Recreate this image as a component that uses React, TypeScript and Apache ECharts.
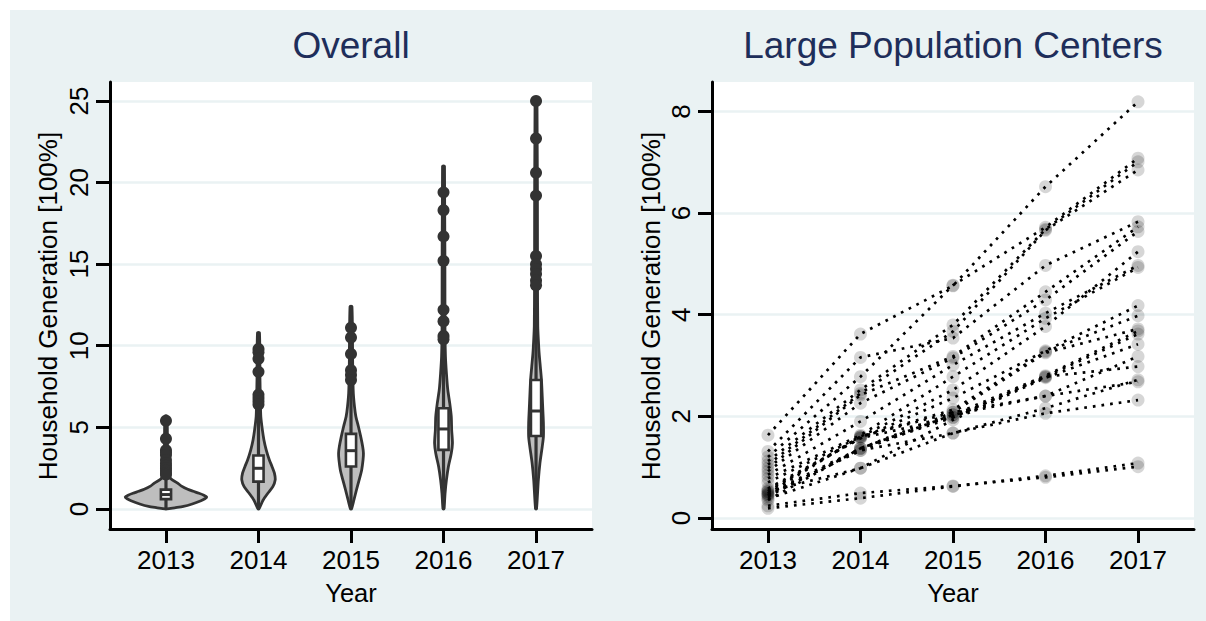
import React, { useEffect, useRef } from 'react';
import * as echarts from 'echarts';

// ---------------- DATA ----------------
const YEARS = [2013, 2014, 2015, 2016, 2017];
const OVERALL_Y_TICKS = [0, 5, 10, 15, 20, 25];
const LARGE_Y_TICKS = [0, 2, 4, 6, 8];

// Violin kernel-density profiles per year: [value, density]
const VIOLIN_2013 = [[0, 0.025], [0.07, 0.225], [0.15, 0.45], [0.3, 0.675], [0.5, 0.9], [0.62, 1.0], [0.72, 1.05], [0.84, 0.975], [0.96, 0.85], [1.08, 0.7], [1.2, 0.56], [1.4, 0.4], [1.6, 0.29], [1.85, 0.125], [2.1, 0.075], [2.6, 0.05], [4, 0.038], [5.7, 0.025]];
const VIOLIN_2014 = [[0, 0.0125], [0.55, 0.12], [0.96, 0.24], [1.37, 0.37], [1.78, 0.43], [2.19, 0.41], [2.59, 0.35], [3.0, 0.28], [3.61, 0.2], [4.23, 0.14], [4.84, 0.1], [5.66, 0.06], [6.5, 0.05], [8, 0.038], [10.8, 0.025]];
const VIOLIN_2015 = [[0, 0.0125], [0.55, 0.075], [1.16, 0.14], [1.78, 0.21], [2.39, 0.275], [3.0, 0.31], [3.41, 0.32], [3.82, 0.3], [4.43, 0.25], [5.05, 0.19], [5.66, 0.125], [6.27, 0.09], [7.09, 0.06], [8.5, 0.045], [12.4, 0.025]];
const VIOLIN_2016 = [[0, 0.0125], [0.96, 0.04], [1.78, 0.075], [2.59, 0.125], [3.41, 0.2], [4.02, 0.23], [4.84, 0.21], [5.66, 0.2], [6.48, 0.16], [7.29, 0.11], [8.31, 0.075], [9.33, 0.05], [11, 0.038], [21, 0.025]];
const VIOLIN_2017 = [[0, 0.0125], [1.78, 0.06], [2.8, 0.1], [3.82, 0.16], [4.43, 0.19], [5.25, 0.19], [6.07, 0.175], [6.88, 0.16], [7.9, 0.14], [8.72, 0.11], [9.53, 0.08], [10.35, 0.06], [11.17, 0.045], [14, 0.038], [25, 0.025]];
const VIOLINS = [VIOLIN_2013, VIOLIN_2014, VIOLIN_2015, VIOLIN_2016, VIOLIN_2017];

const BOX_Q1 = [0.6, 1.67, 2.6, 3.62, 4.47];
const BOX_MEDIAN = [0.88, 2.49, 3.57, 4.9, 6.0];
const BOX_Q3 = [1.18, 3.27, 4.6, 6.17, 7.9];
const SPIKE_MIN = [0, 0, 0, 0, 0];
const SPIKE_MAX = [5.7, 10.8, 12.4, 21.0, 25.0];

const OUTLIERS_2013 = [5.4, 4.3, 3.6, 3.45, 3.3, 3.0, 2.8, 2.65, 2.5, 2.35, 2.2, 2.1];
const OUTLIERS_2014 = [9.8, 9.6, 9.2, 8.4, 7.0, 6.8, 6.6, 6.4];
const OUTLIERS_2015 = [11.1, 10.5, 9.5, 8.5, 8.2, 7.9];
const OUTLIERS_2016 = [19.4, 18.3, 16.7, 15.2, 12.2, 11.5, 10.6, 10.4];
const OUTLIERS_2017 = [25.0, 22.7, 20.6, 19.2, 15.5, 15.0, 14.7, 14.4, 14.0, 13.7];
const OUTLIERS = [OUTLIERS_2013, OUTLIERS_2014, OUTLIERS_2015, OUTLIERS_2016, OUTLIERS_2017];

// Large population centers: values for 2013..2017
const CENTER_01 = [1.63, 3.62, 4.57, 6.52, 8.19];
const CENTER_02 = [1.2, 2.78, 4.58, 5.72, 7.08];
const CENTER_03 = [1.12, 2.52, 3.8, 5.68, 7.01];
const CENTER_04 = [1.05, 2.45, 3.67, 5.66, 6.85];
const CENTER_05 = [1.31, 3.16, 3.54, 4.97, 5.83];
const CENTER_06 = [0.98, 2.42, 3.18, 4.45, 5.73];
const CENTER_07 = [0.92, 2.26, 3.15, 4.29, 5.64];
const CENTER_08 = [0.85, 1.9, 3.01, 4.03, 4.97];
const CENTER_09 = [0.78, 1.63, 2.78, 3.93, 4.93];
const CENTER_10 = [0.7, 1.6, 2.52, 3.77, 5.24];
const CENTER_11 = [0.58, 1.57, 2.36, 3.29, 4.18];
const CENTER_12 = [0.52, 1.6, 2.13, 3.27, 3.98];
const CENTER_13 = [0.48, 1.37, 2.08, 3.25, 3.72];
const CENTER_14 = [0.45, 1.33, 2.03, 2.8, 3.68];
const CENTER_15 = [0.42, 1.37, 1.98, 2.78, 3.62];
const CENTER_16 = [0.38, 0.98, 1.93, 2.76, 3.42];
const CENTER_17 = [0.35, 1.37, 2.03, 2.4, 3.18];
const CENTER_18 = [0.55, 1.57, 1.98, 2.78, 2.98];
const CENTER_19 = [0.52, 0.98, 1.67, 2.16, 2.72];
const CENTER_20 = [0.45, 1.33, 1.67, 2.06, 2.32];
const CENTER_21 = [0.48, 1.6, 2.08, 2.4, 2.68];
const CENTER_22 = [0.19, 0.39, 0.62, 0.83, 1.08];
const CENTER_23 = [0.24, 0.49, 0.63, 0.8, 1.01];
const CENTERS = [CENTER_01, CENTER_02, CENTER_03, CENTER_04, CENTER_05, CENTER_06, CENTER_07, CENTER_08, CENTER_09, CENTER_10, CENTER_11, CENTER_12, CENTER_13, CENTER_14, CENTER_15, CENTER_16, CENTER_17, CENTER_18, CENTER_19, CENTER_20, CENTER_21, CENTER_22, CENTER_23];

// ---------------- STYLE ----------------
const BG = '#EAF2F3';
const DARK = '#333333';
const FONT = '"Liberation Sans", Arial, Helvetica, sans-serif';
const VIOLIN_SCALE = 0.42; // x-axis years per density unit
const BOX_HALF = 0.055; // years

const axisText = { color: '#000', fontFamily: FONT, fontSize: 26 };

function makeXAxis(gridIndex: number) {
  return {
    type: 'value',
    gridIndex,
    min: 2012.395,
    max: 2017.605,
    axisLine: { show: true, onZero: false, lineStyle: { color: '#000', width: 3 } },
    axisTick: { show: true, length: 14, customValues: YEARS, lineStyle: { color: '#000', width: 3 } },
    axisLabel: { customValues: YEARS, formatter: (v: number) => String(v), margin: 31, verticalAlign: 'middle', ...axisText },
    splitLine: { show: false },
  };
}

function makeYAxis(gridIndex: number, min: number, max: number, ticks: number[]) {
  return {
    type: 'value',
    gridIndex,
    min,
    max,
    axisLine: { show: true, onZero: false, lineStyle: { color: '#000', width: 3 } },
    axisTick: { show: true, length: 14, customValues: ticks, lineStyle: { color: '#000', width: 3 } },
    axisLabel: {
      customValues: ticks,
      rotate: 90,
      margin: 31,
      align: 'center',
      verticalAlign: 'middle',
      formatter: (v: number) => String(v),
      ...axisText,
    },
    splitLine: { show: true, lineStyle: { color: BG, width: 2.5 } },
  };
}

function violinRender(params: any, api: any) {
  const year = api.value(0);
  const idx = api.value(1);
  const prof = VIOLINS[idx];
  const right = prof.map(([v, d]) => api.coord([year + d * VIOLIN_SCALE, v]));
  const left = prof.slice().reverse().map(([v, d]) => api.coord([year - d * VIOLIN_SCALE, v]));
  const pts = right.concat(left);
  const tl = api.coord([year - BOX_HALF, BOX_Q3[idx]]);
  const br = api.coord([year + BOX_HALF, BOX_Q1[idx]]);
  const mL = api.coord([year - BOX_HALF, BOX_MEDIAN[idx]]);
  const mR = api.coord([year + BOX_HALF, BOX_MEDIAN[idx]]);
  const sTop = api.coord([year, SPIKE_MAX[idx]]);
  const sBot = api.coord([year, SPIKE_MIN[idx]]);
  return {
    type: 'group',
    children: [
      {
        type: 'polygon',
        shape: { points: pts, smooth: 0.25 },
        style: { fill: '#BEBEBE', stroke: DARK, lineWidth: 2.8 },
      },
      {
        type: 'line',
        shape: { x1: sBot[0], y1: sBot[1], x2: sTop[0], y2: sTop[1] },
        style: { stroke: DARK, lineWidth: 3.2 },
      },
      {
        type: 'rect',
        shape: { x: tl[0], y: tl[1], width: br[0] - tl[0], height: br[1] - tl[1] },
        style: { fill: '#fff', stroke: DARK, lineWidth: 2.6 },
      },
      {
        type: 'line',
        shape: { x1: mL[0], y1: mL[1], x2: mR[0], y2: mR[1] },
        style: { stroke: DARK, lineWidth: 3 },
      },
    ],
  };
}

function buildOption() {
  const outlierData: number[][] = [];
  OUTLIERS.forEach((arr, i) => arr.forEach((v) => outlierData.push([YEARS[i], v])));

  const centerPoints: number[][] = [];
  CENTERS.forEach((c) => c.forEach((v, j) => centerPoints.push([YEARS[j], v])));

  const lineSeries = CENTERS.map((c, k) => ({
    type: 'line',
    name: 'center' + (k + 1),
    xAxisIndex: 1,
    yAxisIndex: 1,
    data: c.map((v, j) => [YEARS[j], v]),
    symbol: 'none',
    silent: true,
    z: 3,
    lineStyle: { color: '#000', width: 2.7, type: [2.7, 6] },
  }));

  return {
    animation: false,
    backgroundColor: BG,
    grid: [
      { left: 100, top: 72, width: 482, height: 447, show: true, backgroundColor: '#fff', borderWidth: 0 },
      { left: 702, top: 72, width: 482, height: 447, show: true, backgroundColor: '#fff', borderWidth: 0 },
    ],
    xAxis: [makeXAxis(0), makeXAxis(1)],
    yAxis: [makeYAxis(0, -1.23, 26.16, OVERALL_Y_TICKS), makeYAxis(1, -0.217, 8.58, LARGE_Y_TICKS)],
    graphic: [
      { type: 'text', x: 341, y: 35, style: { text: 'Overall', fill: '#1e2e5a', font: `37px ${FONT}`, textAlign: 'center', textVerticalAlign: 'middle' } },
      { type: 'text', x: 943, y: 35, style: { text: 'Large Population Centers', fill: '#1e2e5a', font: `37px ${FONT}`, textAlign: 'center', textVerticalAlign: 'middle' } },
      { type: 'text', x: 38, y: 296, rotation: Math.PI / 2, style: { text: 'Household Generation [100%]', fill: '#000', font: `26px ${FONT}`, textAlign: 'center', textVerticalAlign: 'middle' } },
      { type: 'text', x: 640.5, y: 296, rotation: Math.PI / 2, style: { text: 'Household Generation [100%]', fill: '#000', font: `26px ${FONT}`, textAlign: 'center', textVerticalAlign: 'middle' } },
      { type: 'text', x: 341, y: 582.5, style: { text: 'Year', fill: '#000', font: `25.5px ${FONT}`, textAlign: 'center', textVerticalAlign: 'middle' } },
      { type: 'text', x: 943, y: 582.5, style: { text: 'Year', fill: '#000', font: `25.5px ${FONT}`, textAlign: 'center', textVerticalAlign: 'middle' } },
    ],
    series: [
      {
        type: 'custom',
        name: 'violins',
        xAxisIndex: 0,
        yAxisIndex: 0,
        data: YEARS.map((y, i) => [y, i]),
        encode: { x: 0, y: -1 },
        renderItem: violinRender,
        silent: true,
        z: 2,
      },
      {
        type: 'scatter',
        name: 'outliers',
        xAxisIndex: 0,
        yAxisIndex: 0,
        data: outlierData,
        symbol: 'circle',
        symbolSize: 12,
        itemStyle: { color: DARK, opacity: 1 },
        silent: true,
        z: 4,
      },
      {
        type: 'scatter',
        name: 'center points',
        xAxisIndex: 1,
        yAxisIndex: 1,
        data: centerPoints,
        symbol: 'circle',
        symbolSize: 13,
        itemStyle: { color: 'rgba(0,0,0,0.2)' },
        silent: true,
        z: 2,
      },
      ...lineSeries,
    ],
  };
}

export default function App() {
  const ref = useRef<HTMLDivElement>(null);
  useEffect(() => {
    if (!ref.current) return;
    const chart = echarts.init(ref.current, null, { renderer: 'svg' });
    chart.setOption(buildOption() as any);
    return () => chart.dispose();
  }, []);
  return <div ref={ref} style={{ position: 'fixed', left: 10, top: 10, width: 1196, height: 611 }} />;
}
